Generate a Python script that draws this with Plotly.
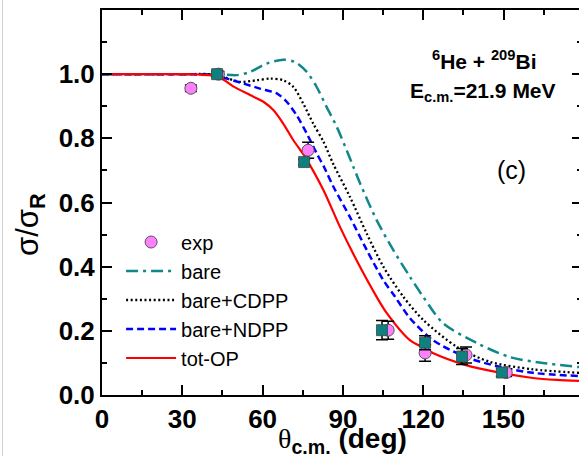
import plotly.graph_objects as go

# ---------------- data ----------------
theta_bare = [0, 10, 20, 30, 40, 44, 50.3, 55.3, 61.5, 67.7, 72.1, 76.5, 80.2, 83.9, 87.7, 91.4, 93.9, 96.4,
              102.6, 108.8, 115, 120, 127.4, 140, 152.4, 164.7, 178.2]
sig_bare = [1, 1, 1, 1, 1, 1.0, 0.997, 1.007, 1.033, 1.045, 1.038, 1.007, 0.96, 0.898, 0.836, 0.763, 0.711, 0.66,
            0.545, 0.452, 0.369, 0.306, 0.224, 0.162, 0.118, 0.1, 0.087]

theta_cdpp = [0, 10, 20, 30, 40, 44, 51.5, 57.8, 62.8, 67.7, 71.5, 75.2, 78.9, 82.7, 86.4, 92.6, 98.9, 105.1,
              112.6, 120, 132.6, 145, 161, 178.2]
sig_cdpp = [1, 1, 1, 1, 1.0, 0.995, 0.976, 0.981, 0.986, 0.981, 0.96, 0.908, 0.846, 0.79, 0.72, 0.618, 0.503, 0.4,
            0.306, 0.234, 0.15, 0.103, 0.08, 0.069]

theta_ndpp = [0, 10, 20, 30, 40, 46.6, 52.8, 59, 65.3, 69, 72.7, 76.5, 80.2, 83, 86.4, 92.6, 98.9, 105.1, 109.5,
              115, 123.6, 136, 149, 161, 178.2]
sig_ndpp = [1, 1, 1, 1, 0.998, 0.986, 0.971, 0.955, 0.94, 0.914, 0.872, 0.815, 0.753, 0.71, 0.65, 0.555, 0.452,
            0.358, 0.306, 0.24, 0.171, 0.118, 0.087, 0.069, 0.059]

theta_tot = [0, 10, 20, 30, 36, 40, 44, 49, 55.3, 60.3, 64, 67.7, 71.5, 76, 82.7, 88.9, 95.1, 102.6, 106.4,
             115, 120.7, 123.8, 136, 149, 161, 170, 178.2]
sig_tot = [1, 1, 1, 1, 0.999, 0.997, 0.99, 0.962, 0.935, 0.914, 0.888, 0.846, 0.794, 0.74, 0.639, 0.524, 0.42,
           0.306, 0.255, 0.171, 0.145, 0.13, 0.093, 0.069, 0.053, 0.047, 0.044]

theta_exp = [33.2, 43.5, 77, 106.9, 120.7, 136, 151]
sig_exp = [0.956, 1.0, 0.763, 0.202, 0.131, 0.125, 0.07]
err_exp = [0.01, 0.008, 0.025, 0.028, 0.026, 0.025, 0.012]

theta_exp2 = [43, 75.5, 104.6, 120.7, 134.5, 149.4]
sig_exp2 = [1.0, 0.726, 0.202, 0.163, 0.12, 0.07]
err_exp2 = [0.008, 0.008, 0.03, 0.022, 0.025, 0.012]

x_ticks = [0, 30, 60, 90, 120, 150, 180]
y_ticks = [0.0, 0.2, 0.4, 0.6, 0.8, 1.0]

FONT = "Liberation Sans"

fig = go.Figure()

curves = [
    ("bare", theta_bare, sig_bare, "#10888a", "12px,5px,3px,5px", 2.5, 2),
    ("bare+CDPP", theta_cdpp, sig_cdpp, "#000000", "2px,2.6px", 2.3, 3),
    ("bare+NDPP", theta_ndpp, sig_ndpp, "#0000ff", "7px,4px", 2.5, 4),
    ("tot-OP", theta_tot, sig_tot, "#ff0000", "solid", 2.2, 5),
]
for name, xs, ys, col, dash, w, rank in curves:
    fig.add_trace(go.Scatter(x=xs, y=ys, mode="lines", name=name, legendrank=rank,
                             line=dict(color=col, dash=dash, width=w, shape="spline", smoothing=0.8)))

fig.add_trace(go.Scatter(x=theta_exp, y=sig_exp, mode="markers", name="exp", legendrank=1,
                         marker=dict(symbol="circle", size=12, color="#ff80ff",
                                     line=dict(color="#555555", width=1)),
                         error_y=dict(type="data", array=err_exp, color="black", thickness=1.5, width=6)))
fig.add_trace(go.Scatter(x=theta_exp2, y=sig_exp2, mode="markers", name="exp2", showlegend=False,
                         marker=dict(symbol="square", size=11, color="#0e8080",
                                     line=dict(color="#444444", width=0.8)),
                         error_y=dict(type="data", array=err_exp2, color="black", thickness=1.5, width=6)))
# dummy trace so that the right-hand tick axis is drawn
fig.add_trace(go.Scatter(x=[None], y=[None], yaxis="y2", showlegend=False, hoverinfo="skip"))

tickfont = dict(family=FONT, size=26, color="black", weight="bold")

fig.update_layout(
    width=579, height=456,
    margin=dict(l=102, r=0, t=10, b=61),
    plot_bgcolor="white", paper_bgcolor="white",
    showlegend=True,
    legend=dict(x=0.04, y=0.448, xanchor="left", yanchor="top", bgcolor="rgba(0,0,0,0)",
                font=dict(family=FONT, size=20, color="black"), tracegroupgap=0, itemwidth=50),
    xaxis=dict(range=[0, 178.2], tickvals=x_ticks, ticks="inside", ticklen=10, tickwidth=2,
               tickcolor="black", showline=True, linewidth=2, linecolor="black", mirror="ticks",
               showgrid=False, zeroline=False, tickfont=tickfont,
               minor=dict(tick0=0, dtick=15, ticks="inside", ticklen=5, tickwidth=2, tickcolor="black",
                          showgrid=False)),
    yaxis=dict(range=[0, 1.2], tickvals=y_ticks, tickformat=".1f", ticks="inside", ticklen=10, tickwidth=2,
               tickcolor="black", showline=True, linewidth=2, linecolor="black", mirror=False,
               showgrid=False, zeroline=False, tickfont=tickfont,
               minor=dict(tick0=0, dtick=0.1, ticks="inside", ticklen=5, tickwidth=2, tickcolor="black",
                          showgrid=False)),
    yaxis2=dict(range=[0, 1.2], overlaying="y", side="right", tickvals=y_ticks, ticks="inside", ticklen=7,
                tickwidth=2, tickcolor="black", showline=False, showticklabels=False, showgrid=False,
                zeroline=False,
                minor=dict(tick0=0, dtick=0.1, ticks="inside", ticklen=2, tickwidth=2, tickcolor="black",
                           showgrid=False)),
)

fig.add_annotation(x=142.7, y=1.043, xref="x", yref="y", showarrow=False, xanchor="center", yanchor="middle",
                   text="<b><sup>6</sup>He + <sup>209</sup>Bi</b>",
                   font=dict(family=FONT, size=21, color="black"))
fig.add_annotation(x=142.3, y=0.943, xref="x", yref="y", showarrow=False, xanchor="center", yanchor="middle",
                   text="<b>E<sub>c.m.</sub>=21.9 MeV</b>",
                   font=dict(family=FONT, size=21, color="black"))
fig.add_annotation(x=152.8, y=0.70, xref="x", yref="y", showarrow=False, xanchor="center", yanchor="middle",
                   text="(c)", font=dict(family=FONT, size=25, color="black"))

# axis titles
fig.add_annotation(x=(342 - 102) / 477, y=(395 - 440) / 385, xref="paper", yref="paper", showarrow=False,
                   xanchor="center", yanchor="middle",
                   text="<span style='font-family:Liberation Serif'>θ</span><b><sub>c.m.</sub> (deg)</b>",
                   font=dict(family=FONT, size=28, color="black"))
fig.add_annotation(x=(30 - 102) / 477, y=(395 - 225) / 385, xref="paper", yref="paper", showarrow=False,
                   xanchor="center", yanchor="middle",
                   textangle=-90, text="σ/σ<b><sub>R</sub></b>",
                   font=dict(family=FONT, size=31, color="black"))

# faint frame line at the very left of the picture
fig.add_shape(type="line", xref="paper", yref="paper", x0=(2.5 - 102) / 477, x1=(2.5 - 102) / 477,
              y0=-0.16, y1=1.03, line=dict(color="#d0d0d0", width=1))

fig.write_html("out.html")
